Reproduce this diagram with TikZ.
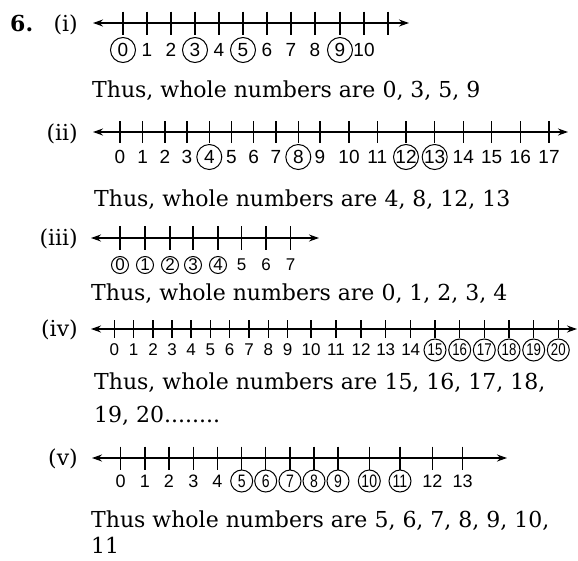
\documentclass[tikz,border=0pt]{standalone}
\usepackage{fontspec}
\setmainfont{DejaVu Serif}
\newfontfamily\numfont{Liberation Sans}
\newfontfamily\numnarrow[FakeStretch=0.78]{Liberation Sans}
\usetikzlibrary{arrows.meta}

\tikzset{
    numline/.style={line width=1.3pt,
        {Stealth[length=10pt,width=7pt]}-{Stealth[length=10pt,width=7pt]}},
    tickmark/.style={line width=1.1pt},
    num/.style={inner sep=0pt, font=\numfont\fontsize{19}{19}\selectfont},
    ring/.style={draw, circle, line width=1pt, inner sep=0pt},
    lab0/.style={},
    lab1/.style={ring},
    answer/.style={anchor=base west, inner sep=0pt, font=\fontsize{22}{26}\selectfont},
    part/.style={anchor=base east, inner sep=0pt, font=\fontsize{22}{26}\selectfont}
}

\begin{document}
\begin{tikzpicture}[x=1pt, y=-1pt]

    \useasboundingbox (0,0) rectangle (578,560);

    % ==========================================
    % 1. PART (i)
    % ==========================================
    \node[anchor=base west, inner sep=0pt, font=\bfseries\fontsize{22}{26}\selectfont] (qno) at (10,31) {6.};
    \node[part] (p1) at (78,31) {(i)};
    \coordinate (aL) at (93,23);
    \coordinate (aR) at (409,23);
    \draw[numline] (aL) -- (aR);
    \foreach \x/\n/\c in {123/0/1, 147/1/0, 171/2/0, 195/3/1, 219/4/0, 243/5/1,
                          267/6/0, 291/7/0, 315/8/0, 340/9/1, 364/10/0} {
        \draw[tickmark] (\x,23) ++(0,-11.5) -- ++(0,23);
        \node[num, lab\c, minimum size=25pt] (a\n) at (\x,50) {\n};
    }
    \draw[tickmark] (388,23) ++(0,-11.5) -- ++(0,23);
    \node[answer] (t1) at (92,97) {Thus, whole numbers are 0, 3, 5, 9};

    % ==========================================
    % 2. PART (ii)
    % ==========================================
    \node[part] (p2) at (78,140) {(ii)};
    \coordinate (bL) at (93,132);
    \coordinate (bR) at (568,132);
    \draw[numline] (bL) -- (bR);
    \foreach \x/\n/\c in {120/0/0, 142.7/1/0, 165/2/0, 187/3/0, 209.3/4/1, 231.3/5/0,
                          253.7/6/0, 276/7/0, 298.3/8/1, 320/9/0, 349/10/0, 377.3/11/0,
                          406/12/1, 434.7/13/1, 463.3/14/0, 491.7/15/0, 520.3/16/0, 549/17/0} {
        \draw[tickmark] (\x,132) ++(0,-11) -- ++(0,22);
        \node[num, lab\c, minimum size=25pt] (b\n) at (\x,157) {\n};
    }
    \node[answer] (t2) at (94,206) {Thus, whole numbers are 4, 8, 12, 13};

    % ==========================================
    % 3. PART (iii)
    % ==========================================
    \node[part] (p3) at (78,245) {(iii)};
    \coordinate (cL) at (91,238);
    \coordinate (cR) at (319,238);
    \draw[numline] (cL) -- (cR);
    \foreach \x/\n/\c in {120/0/1, 145/1/1, 170/2/1, 193/3/1, 218/4/1,
                          241.5/5/0, 266/6/0, 290.7/7/0} {
        \draw[tickmark] (\x,238) ++(0,-12) -- ++(0,24);
        \node[num, lab\c, minimum size=17pt, font=\numfont\fontsize{17}{17}\selectfont] (c\n) at (\x,265) {\n};
    }
    \node[answer] (t3) at (91,300) {Thus, whole numbers are 0, 1, 2, 3, 4};

    % ==========================================
    % 4. PART (iv)
    % ==========================================
    \node[part] (p4) at (78,336) {(iv)};
    \coordinate (dL) at (91,329);
    \coordinate (dR) at (577,329);
    \draw[numline] (dL) -- (dR);
    \foreach \x/\n in {114.3/0, 133.7/1, 153/2, 172/3, 191/4, 210.3/5, 229.7/6,
                       249/7, 268.3/8, 287.7/9, 311/10, 336/11, 361/12, 385.7/13, 410.7/14} {
        \draw[tickmark] (\x,329) ++(0,-9) -- ++(0,18);
        \node[num, font=\numfont\fontsize{17}{17}\selectfont] (d\n) at (\x,350) {\n};
    }
    \foreach \x/\n in {435/15, 459.7/16, 484.3/17, 509/18, 533.7/19, 558.3/20} {
        \draw[tickmark] (\x,329) ++(0,-9) -- ++(0,18);
        \node[num, ring, minimum size=22pt, font=\numnarrow\fontsize{17}{17}\selectfont] (d\n) at (\x,350) {\n};
    }
    \node[answer] (t4) at (94,389) {Thus, whole numbers are 15, 16, 17, 18,};
    \node[answer] (t4b) at (94,422) {19, 20........};

    % ==========================================
    % 5. PART (v)
    % ==========================================
    \node[part] (p5) at (78,465) {(v)};
    \coordinate (eL) at (92,458);
    \coordinate (eR) at (507,458);
    \draw[numline] (eL) -- (eR);
    \foreach \x/\n in {120.7/0, 145/1, 169/2, 193.3/3, 217.3/4, 432.3/12, 462.7/13} {
        \draw[tickmark] (\x,458) ++(0,-11.5) -- ++(0,23);
        \node[num, font=\numfont\fontsize{18}{18}\selectfont] (e\n) at (\x,481) {\n};
    }
    \foreach \x/\n in {241.7/5, 265.7/6, 290/7, 314/8, 338/9, 369.3/10, 400/11} {
        \draw[tickmark] (\x,458) ++(0,-11.5) -- ++(0,23);
        \node[num, ring, minimum size=22pt, font=\numnarrow\fontsize{18}{18}\selectfont] (e\n) at (\x,481) {\n};
    }
    \node[answer] (t5) at (91,527) {Thus whole numbers are 5, 6, 7, 8, 9, 10,};
    \node[answer] (t5b) at (91,553) {11};

\end{tikzpicture}
\end{document}
